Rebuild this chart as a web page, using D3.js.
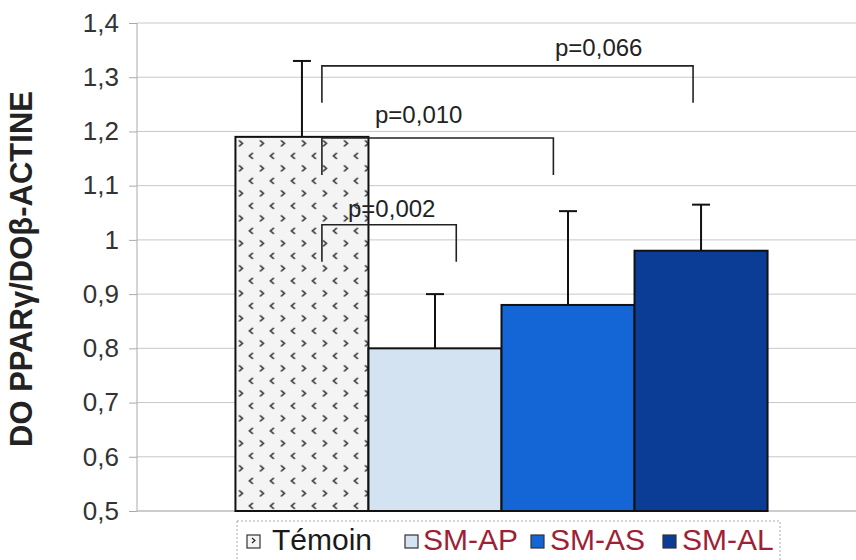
<!DOCTYPE html>
<html>
<head>
<meta charset="utf-8">
<script src="https://cdn.jsdelivr.net/npm/d3@7/dist/d3.min.js"></script>
<style>
  html, body { margin: 0; padding: 0; background: #fff; }
  svg { display: block; font-family: "Liberation Sans", Arial, sans-serif; }
</style>
</head>
<body>
<svg id="chart" width="856" height="560"></svg>
<script>
  // data
  var groups    = ["Témoin", "SM-AP", "SM-AS", "SM-AL"];
  var means     = [1.19, 0.80, 0.88, 0.98];
  var errTops   = [1.33, 0.90, 1.053, 1.065];
  var yTicks    = [0.5, 0.6, 0.7, 0.8, 0.9, 1.0, 1.1, 1.2, 1.3, 1.4];
  var pLabels   = ["p=0,002", "p=0,010", "p=0,066"];
  var pTargets  = ["SM-AP", "SM-AS", "SM-AL"];   // each compared with Témoin
  var pLevels   = [1.028, 1.188, 1.321];         // height of bracket
  var yTitle    = "DO PPARγ/DOβ-ACTINE";

(function() {
  'use strict';

  var colors = ["url(#dots)", "#d3e3f1", "#1466d6", "#0b3d96"];
  var legendColors = ["#1a1a1a", "#9e1f36", "#9e1f36", "#9e1f36"];

  var svg = d3.select("#chart");
  var plotLeft = 137, plotRight = 866, plotTop = 23, plotBottom = 511;

  var x = d3.scaleBand().domain(groups).range([plotLeft, plotRight])
    .paddingInner(0).paddingOuter(0.74);
  var y = d3.scaleLinear().domain([0.5, 1.4]).range([plotBottom, plotTop]);

  // chevron pattern for the control bar
  var defs = svg.append("defs");
  var pat = defs.append("pattern")
    .attr("id", "dots").attr("patternUnits", "userSpaceOnUse")
    .attr("width", 21).attr("height", 25)
    .attr("x", x("Témoin")).attr("y", y(means[0]));
  pat.append("rect").attr("width", 21).attr("height", 25).attr("fill", "#f4f4f4");
  pat.append("path").attr("d", "M3.5,3.5 L7,6.5 L3.5,9.5").attr("fill", "none")
    .attr("stroke", "#222").attr("stroke-width", 1.5);
  pat.append("path").attr("d", "M17.5,16 L14,19 L17.5,22").attr("fill", "none")
    .attr("stroke", "#222").attr("stroke-width", 1.5);

  // gridlines + y axis
  svg.append("g").selectAll("line").data(yTicks).enter().append("line")
    .attr("x1", plotLeft).attr("x2", 856)
    .attr("y1", function(d) { return y(d); }).attr("y2", function(d) { return y(d); })
    .attr("stroke", function(d) { return d === 0.5 ? "#999" : "#c8c8c8"; })
    .attr("stroke-width", 1);

  var yAxis = svg.append("g")
    .attr("transform", "translate(" + plotLeft + ",0)")
    .call(d3.axisLeft(y).tickValues(yTicks).tickSize(8).tickPadding(10)
      .tickFormat(function(d) { return d3.format(".1~f")(d).replace(".", ","); }));
  yAxis.select(".domain").attr("stroke", "#aaa").attr("d", "M0," + plotTop + "V" + plotBottom);
  yAxis.selectAll(".tick line").attr("stroke", "#aaa");
  yAxis.selectAll(".tick text").attr("font-size", 26).attr("fill", "#333")
    .attr("font-family", "'Liberation Sans', Arial, sans-serif");

  svg.append("text")
    .attr("transform", "translate(32,269) rotate(-90)")
    .attr("text-anchor", "middle")
    .attr("font-size", 31).attr("font-weight", "bold").attr("fill", "#222")
    .text(yTitle);

  // bars
  svg.append("g").selectAll("rect").data(groups).enter().append("rect")
    .attr("x", function(d) { return x(d); })
    .attr("y", function(d, i) { return y(means[i]); })
    .attr("width", x.bandwidth())
    .attr("height", function(d, i) { return y(0.5) - y(means[i]); })
    .attr("fill", function(d, i) { return colors[i]; })
    .attr("stroke", "#111").attr("stroke-width", 2);

  // error bars (upper only)
  var eb = svg.append("g").attr("stroke", "#111").attr("stroke-width", 2);
  groups.forEach(function(g, i) {
    var cx = x(g) + x.bandwidth() / 2;
    eb.append("line").attr("x1", cx).attr("x2", cx)
      .attr("y1", y(means[i])).attr("y2", y(errTops[i]));
    eb.append("line").attr("x1", cx - 9).attr("x2", cx + 9)
      .attr("y1", y(errTops[i])).attr("y2", y(errTops[i]));
  });

  // significance brackets
  var legFrac = [0.66, 0.39, 0.44];   // where each right leg sits in its bar
  var labelX = [348, 375, 555];
  var labelGap = [8, 15, 10];
  var drop = 37;
  var br = svg.append("g");
  pTargets.forEach(function(t, i) {
    var x1 = x("Témoin") + x.bandwidth() * 0.65;
    var x2 = x(t) + x.bandwidth() * legFrac[i];
    var yl = y(pLevels[i]);
    br.append("path")
      .attr("d", "M" + x1 + "," + (yl + drop) + "V" + yl + "H" + x2 + "V" + (yl + drop))
      .attr("fill", "none").attr("stroke", "#222").attr("stroke-width", 1.6);
    br.append("text").attr("x", labelX[i]).attr("y", yl - labelGap[i])
      .attr("font-size", 24).attr("fill", "#222").text(pLabels[i]);
  });

  // legend
  var legendX = [247, 405, 531, 663];
  var textX = [272, 423, 550, 682];
  var lg = svg.append("g");
  lg.append("rect").attr("x", 237).attr("y", 521).attr("width", 543).attr("height", 60)
    .attr("fill", "none").attr("stroke", "#aaa").attr("stroke-dasharray", "2,2");
  groups.forEach(function(g, i) {
    lg.append("rect").attr("x", legendX[i]).attr("y", 535).attr("width", 13).attr("height", 13)
      .attr("fill", i === 0 ? "#f4f4f4" : colors[i])
      .attr("stroke", "#333").attr("stroke-width", 1.2);
    if (i === 0) {
      lg.append("path").attr("d", "M" + (legendX[i] + 5) + ",538 l3,2.5 l-3,2.5")
        .attr("fill", "none").attr("stroke", "#222").attr("stroke-width", 1.2);
    }
    lg.append("text").attr("x", textX[i]).attr("y", 550)
      .attr("font-size", 30).attr("fill", legendColors[i]).text(g);
  });
})();
</script>
</body>
</html>
